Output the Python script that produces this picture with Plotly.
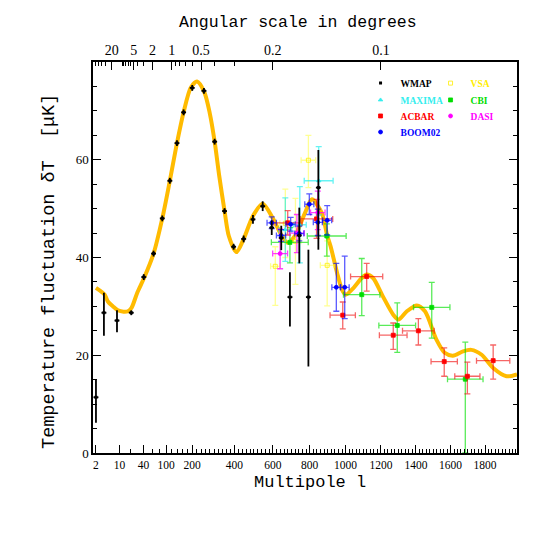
import numpy as np
import plotly.graph_objects as go


# multipole axis is log-like at low l and linear at high l
def lscale(l):
    l = np.asarray(l, dtype=float)
    return l + 84.0 * np.log(l)


def xerr(l, dl):
    l = np.asarray(l, dtype=float)
    dl = np.asarray(dl, dtype=float)
    return lscale(l + dl) - lscale(l), lscale(l) - lscale(l - dl)


# theory curve
curve_l = [2, 3.7, 4.6, 6.5, 9, 13, 17, 21, 29, 41, 63, 88, 113, 139, 165, 195, 222, 255,
           280, 303, 325, 351, 372, 410, 447, 495, 546, 600, 640, 680, 720, 775, 812, 866,
           897, 916, 952, 980, 1000, 1045, 1091, 1119, 1155, 1210, 1270, 1300, 1348, 1405,
           1452, 1518, 1566, 1613, 1672, 1720, 1780, 1847, 1925, 1986]
curve_dt = [33.8, 32.4, 31.0, 30.0, 29.2, 28.9, 29.0, 29.7, 32.8, 35.8, 40.8, 48.0, 55.7, 63.4,
            69.7, 74.8, 76.0, 73.8, 69.5, 63.7, 56.7, 49.5, 44.4, 41.1, 43.8, 48.5, 51.0, 48.0,
            45.0, 43.0, 44.5, 49.2, 51.9, 49.2, 44.5, 42.3, 36.9, 33.4, 32.4, 33.8, 35.8, 36.5,
            35.8, 32.1, 28.3, 27.3, 29.0, 30.2, 29.0, 23.2, 20.5, 19.9, 20.8, 21.1, 20.1, 17.4,
            15.7, 16.1]

# WMAP
wmap_l = [2, 3.5, 8.5, 20.7, 40.5, 63, 88, 113, 139, 165, 201, 253, 303, 351, 396, 447, 495,
          546, 594, 645, 692, 743, 793, 848]
wmap_dt = [11.4, 28.7, 27.1, 28.7, 36.0, 40.8, 48.0, 55.7, 63.4, 69.7, 74.7, 74.1, 63.7, 49.5,
           42.2, 43.8, 47.8, 50.5, 46.1, 44.0, 31.9, 44.5, 31.9, 54.3]
wmap_up = [3.6, 4.1, 2.1, 0.5, 0.6, 0.6, 0.6, 0.6, 0.6, 0.6, 0.6, 0.6, 0.6, 0.6, 0.6, 0.7, 0.9,
           1.0, 1.5, 2.5, 5.1, 5.7, 9.7, 7.7]
wmap_dn = [5.2, 4.7, 2.4, 0.5, 0.6, 0.6, 0.6, 0.6, 0.6, 0.6, 0.6, 0.6, 0.6, 0.6, 0.6, 0.7, 0.9,
           1.0, 1.5, 2.5, 6.0, 5.7, 14.2, 12.7]

# VSA
vsa_l = [613, 667, 722, 793, 897]
vsa_dl = [25, 30, 30, 40, 38]
vsa_dt = [38.2, 47.0, 43.3, 59.9, 38.4]
vsa_up = [4.0, 7.0, 8.8, 5.1, 5.0]
vsa_dn = [8.0, 7.0, 8.8, 5.6, 8.3]

# MAXIMA
max_l = [667, 746, 850]
max_dl = [35, 35, 80]
max_dt = [45.7, 46.7, 55.7]
max_err = [6.5, 7.8, 7.0]

# CBI
cbi_l = [692, 895, 1091, 1293, 1491, 1685]
cbi_dl = [100, 108, 103, 105, 105, 103]
cbi_dt = [43.1, 44.4, 32.4, 26.1, 29.8, 15.1]
cbi_up = [3.0, 2.5, 7.4, 4.6, 5.1, 7.6]
cbi_dn = [4.2, 4.1, 4.3, 5.5, 6.3, 15.1]

# ACBAR
acb_l = [680, 838, 984, 1119, 1270, 1414, 1563, 1697, 1847]
acb_dl = [78, 90, 71, 91, 79, 91, 76, 73, 97]
acb_dt = [47.1, 47.9, 28.2, 36.1, 24.1, 25.0, 18.7, 15.7, 18.9]
acb_up = [2.5, 4.0, 2.7, 2.7, 2.5, 2.5, 2.8, 2.9, 3.2]
acb_dn = [2.5, 4.0, 2.8, 3.0, 2.9, 2.9, 3.0, 3.6, 3.8]

# DASI
dasi_l = [639, 730, 845]
dasi_dl = [40, 40, 40]
dasi_dt = [40.8, 45.0, 49.2]
dasi_up = [5.0, 3.8, 4.4]
dasi_dn = [3.1, 4.0, 3.5]

# BOOM02
boom_l = [594, 644, 696, 743, 798, 845, 897, 948, 995]
boom_dl = [25, 25, 25, 25, 25, 25, 25, 25, 25]
boom_dt = [47.1, 44.5, 46.8, 44.9, 50.9, 47.2, 47.6, 33.9, 33.9]
boom_err = [1.2, 1.2, 1.4, 1.5, 2.1, 2.7, 3.0, 4.9, 6.4]

bottom_ticks = [2, 10, 40, 100, 200, 400, 600, 800, 1000, 1200, 1400, 1600, 1800]
top_ticks = [20, 5, 2, 1, 0.5, 0.2, 0.1]
top_minor = [60, 50, 40, 30, 10, 9, 8, 7, 6, 4, 3, 0.9, 0.8, 0.7, 0.6, 0.4, 0.3]

fig = go.Figure()

fig.add_trace(go.Scatter(
    x=lscale(curve_l), y=curve_dt, mode='lines',
    line=dict(color='#FFBB00', width=4, shape='spline', smoothing=0.8),
    showlegend=False, hoverinfo='skip'
))


def add_exp(name, color, bar_color, symbol, l, dl, dt, up, dn, legend, rank):
    ep, em = xerr(l, dl)
    fig.add_trace(go.Scatter(
        x=lscale(l), y=dt, mode='markers',
        name='<b><span style="color:%s">%s</span></b>' % (color, name),
        marker=dict(color=color, size=4, symbol=symbol, line=dict(width=0.8, color=color)),
        error_x=dict(type='data', array=ep, arrayminus=em, symmetric=False,
                     color=bar_color, thickness=1.3, width=3),
        error_y=dict(type='data', array=up, arrayminus=dn, symmetric=False,
                     color=bar_color, thickness=1.3, width=3),
        legend=legend, legendrank=rank
    ))


# legend rows: (WMAP, VSA), (MAXIMA, CBI), (ACBAR, DASI), (BOOM02)
add_exp('VSA', '#FFEE00', 'rgba(255,255,60,0.55)', 'square-open',
        vsa_l, vsa_dl, vsa_dt, vsa_up, vsa_dn, 'legend', 2)
add_exp('MAXIMA', '#33EEEE', 'rgba(0,235,235,0.6)', 'triangle-up',
        max_l, max_dl, max_dt, max_err, max_err, 'legend2', 1)
add_exp('CBI', '#00DD00', 'rgba(0,225,0,0.65)', 'square',
        cbi_l, cbi_dl, cbi_dt, cbi_up, cbi_dn, 'legend2', 2)
add_exp('ACBAR', '#FF0000', 'rgba(240,0,0,0.6)', 'square',
        acb_l, acb_dl, acb_dt, acb_up, acb_dn, 'legend3', 1)
add_exp('DASI', '#FF00FF', 'rgba(255,0,255,0.75)', 'circle',
        dasi_l, dasi_dl, dasi_dt, dasi_up, dasi_dn, 'legend3', 2)
add_exp('BOOM02', '#0000FF', 'rgba(0,0,255,0.65)', 'circle',
        boom_l, boom_dl, boom_dt, boom_err, boom_err, 'legend4', 1)

fig.add_trace(go.Scatter(
    x=lscale(wmap_l), y=wmap_dt, mode='markers',
    name='<b>WMAP</b>',
    marker=dict(color='black', size=3, symbol='square'),
    error_x=dict(type='constant', value=15, color='black', thickness=1.8, width=0),
    error_y=dict(type='data', array=wmap_up, arrayminus=wmap_dn, symmetric=False,
                 color='black', thickness=1.8, width=0),
    legend='legend', legendrank=1
))

# dummy trace so the top (angular scale) axis is drawn
fig.add_trace(go.Scatter(x=lscale([100]), y=[-10], xaxis='x2', mode='markers',
                         showlegend=False, hoverinfo='skip'))

xmin = float(lscale(2)) - 18
xmax = float(lscale(1986))

minor_l = [v for v in range(20, 2000, 20) if v not in bottom_ticks]
serif = 'Liberation Serif'
mono = 'Liberation Mono'

leg_font = dict(family=serif, size=9.5, color='black')
leg_rows = [0.946, 0.903, 0.862, 0.821]
legends = {}
for i, yrow in enumerate(leg_rows):
    key = 'legend' if i == 0 else 'legend%d' % (i + 1)
    legends[key] = dict(x=0.631, y=yrow, xanchor='left', yanchor='middle',
                        orientation='h', entrywidth=25 if i < 3 else 60,
                        bgcolor='rgba(0,0,0,0)',
                        font=leg_font, itemwidth=30, traceorder='normal')

fig.update_layout(
    width=545, height=545,
    margin=dict(l=85, r=36, t=54, b=100),
    paper_bgcolor='white', plot_bgcolor='white',
    xaxis=dict(
        range=[xmin, xmax], showgrid=False, zeroline=False,
        showline=True, linecolor='black', linewidth=1.5,
        ticks='inside', ticklen=8, tickwidth=1, tickcolor='black',
        tickmode='array', tickvals=lscale(bottom_ticks), ticktext=[str(v) for v in bottom_ticks],
        tickfont=dict(family=serif, size=11.5, color='black'),
        minor=dict(tickmode='array', tickvals=lscale(minor_l), ticks='inside',
                   ticklen=4, tickcolor='black', tickwidth=1)
    ),
    xaxis2=dict(
        overlaying='x', side='top', matches='x', anchor='y',
        range=[xmin, xmax], showgrid=False, zeroline=False,
        showline=True, linecolor='black', linewidth=1.5,
        ticks='inside', ticklen=8, tickwidth=1, tickcolor='black',
        tickmode='array', tickvals=lscale([120.0 / t for t in top_ticks]),
        ticktext=[('%g' % t) for t in top_ticks],
        tickfont=dict(family=serif, size=14, color='black'),
        minor=dict(tickmode='array', tickvals=lscale([120.0 / t for t in top_minor]),
                   ticks='inside', ticklen=4, tickcolor='black', tickwidth=1)
    ),
    yaxis=dict(
        range=[0, 80], showgrid=False, zeroline=False,
        showline=True, linecolor='black', linewidth=1.5, mirror='ticks',
        ticks='inside', ticklen=8, tickwidth=1, tickcolor='black',
        tickmode='array', tickvals=[0, 20, 40, 60],
        tickfont=dict(family=serif, size=13, color='black'),
        minor=dict(tickmode='linear', tick0=0, dtick=5, ticks='inside',
                   ticklen=4, tickcolor='black', tickwidth=1)
    ),
    annotations=[
        dict(text='Multipole l', xref='paper', yref='paper', x=0.5, y=0, xshift=5,
             yshift=-29, yanchor='middle', showarrow=False,
             font=dict(family=mono, size=17, color='black')),
        dict(text='Angular scale in degrees', xref='paper', yref='paper', x=0.5, y=1,
             xshift=-7, yshift=40, yanchor='middle', showarrow=False,
             font=dict(family=mono, size=16.5, color='black')),
        dict(text='Temperature fluctuation δT  [μK]', xref='paper', yref='paper',
             x=0, y=0.463, xshift=-43, xanchor='center', yanchor='middle',
             textangle=-90, showarrow=False,
             font=dict(family=mono, size=18.5, color='black')),
    ],
    **legends
)

fig.write_html('out.html')
